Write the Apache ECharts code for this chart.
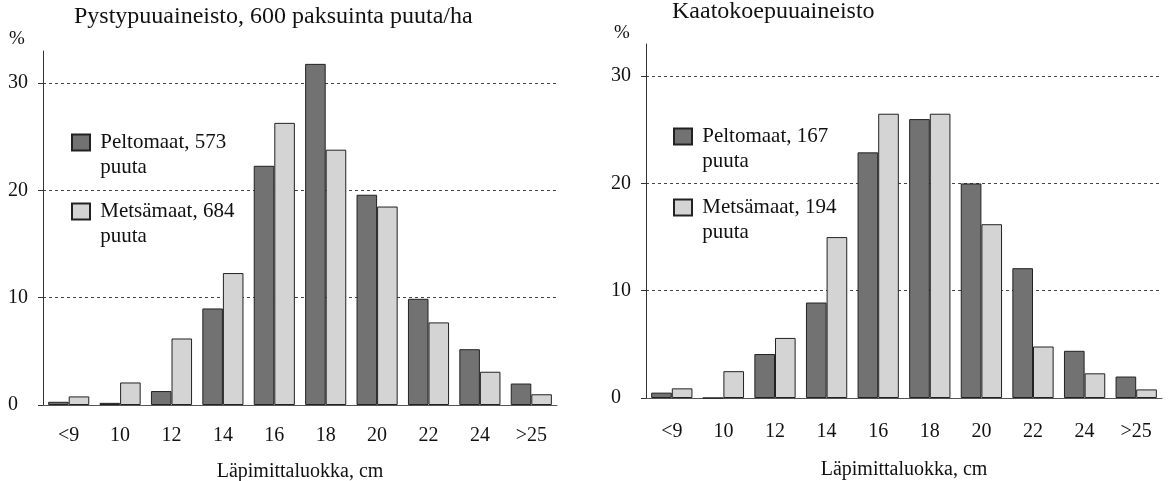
<!DOCTYPE html>
<html>
<head>
<meta charset="utf-8">
<script src="https://cdn.jsdelivr.net/npm/echarts@6/dist/echarts.min.js"></script>
<style>
  html, body { margin: 0; padding: 0; background: #fff; }
  #chart { width: 1170px; height: 481px; }
</style>
</head>
<body>
<div id="chart"></div>
<script>
// categories (diameter class, cm)
var categories = ['<9', '10', '12', '14', '16', '18', '20', '22', '24', '>25'];
var yTicks = [0, 10, 20, 30];

// left: Pystypuuaineisto
var leftPelto = [0.3, 0.2, 1.3, 9.0, 22.3, 31.8, 19.6, 9.9, 5.2, 2.0];
var leftMetsa = [0.8, 2.1, 6.2, 12.3, 26.3, 23.8, 18.5, 7.7, 3.1, 1.0];
// right: Kaatokoepuuaineisto
var rightPelto = [0.5, 0, 4.1, 8.9, 22.9, 26.0, 20.0, 12.1, 4.4, 2.0];
var rightMetsa = [0.9, 2.5, 5.6, 15.0, 26.5, 26.5, 16.2, 4.8, 2.3, 0.8];

var names = ['Peltomaat, 573', 'Metsämaat, 684', 'Peltomaat, 167', 'Metsämaat, 194'];

var font = '"Liberation Serif", "DejaVu Serif", serif';
var ink = '#111';
var dark = '#727272';
var light = '#d4d4d4';

function xAxisFor(gi, labelMargin, nameGap) {
    return {
        type: 'category',
        gridIndex: gi,
        data: categories,
        axisTick: { show: false },
        axisLine: { lineStyle: { color: '#555', width: 1 } },
        axisLabel: { interval: 0, margin: labelMargin, color: ink, fontFamily: font, fontSize: 20 },
        name: 'Läpimittaluokka, cm',
        nameLocation: 'middle',
        nameGap: nameGap,
        nameTextStyle: { color: ink, fontFamily: font, fontSize: 20 }
    };
}

function yAxisFor(gi) {
    return {
        type: 'value',
        gridIndex: gi,
        min: 0,
        max: 33,
        interval: 10,
        axisLine: { show: true, lineStyle: { color: '#333', width: 1 } },
        axisTick: { show: true, length: 5, customValues: yTicks, lineStyle: { color: '#333' } },
        axisLabel: { customValues: yTicks, align: 'left', margin: 35, color: ink, fontFamily: font, fontSize: 20 },
        splitLine: { show: true, lineStyle: { color: '#444', type: [3, 3], width: 1 } }
    };
}

function barSeries(name, data, gi, color) {
    return {
        name: name,
        type: 'bar',
        xAxisIndex: gi,
        yAxisIndex: gi,
        data: data,
        barGap: '0%',
        barCategoryGap: '20%',
        itemStyle: { color: color, borderColor: '#222', borderWidth: 1 }
    };
}

// blank first line keeps the box aligned with the first text line
function legendFor(name, left, top) {
    return {
        data: [name],
        left: left,
        top: top,
        padding: 0,
        icon: 'rect',
        itemWidth: 18,
        itemHeight: 16,
        formatter: function (n) { return '\n ' + n + '\n puuta'; },
        textStyle: { color: ink, fontFamily: font, fontSize: 21, lineHeight: 25 }
    };
}

var chart = echarts.init(document.getElementById('chart'));
var option = {
    backgroundColor: '#fff',
    animation: false,
    title: [
        { text: 'Pystypuuaineisto, 600 paksuinta puuta/ha', left: 74, top: 5, padding: 0,
          textStyle: { color: ink, fontFamily: font, fontSize: 24, fontWeight: 'normal' } },
        { text: '%', left: 9, top: 30, padding: 0,
          textStyle: { color: ink, fontFamily: font, fontSize: 19, fontWeight: 'normal' } },
        { text: 'Kaatokoepuuaineisto', left: 672, top: 0, padding: 0,
          textStyle: { color: ink, fontFamily: font, fontSize: 24, fontWeight: 'normal' } },
        { text: '%', left: 614, top: 24, padding: 0,
          textStyle: { color: ink, fontFamily: font, fontSize: 19, fontWeight: 'normal' } }
    ],
    legend: [
        legendFor(names[0], 71, 105),
        legendFor(names[1], 71, 174),
        legendFor(names[2], 673, 99),
        legendFor(names[3], 673, 170)
    ],
    grid: [
        { left: 43, top: 51, width: 514, height: 354, outerBoundsMode: 'none' },
        { left: 646, top: 44, width: 516, height: 354, outerBoundsMode: 'none' }
    ],
    xAxis: [xAxisFor(0, 21, 57), xAxisFor(1, 24, 62)],
    yAxis: [yAxisFor(0), yAxisFor(1)],
    series: [
        barSeries(names[0], leftPelto, 0, dark),
        barSeries(names[1], leftMetsa, 0, light),
        barSeries(names[2], rightPelto, 1, dark),
        barSeries(names[3], rightMetsa, 1, light)
    ]
};
chart.setOption(option);
</script>
</body>
</html>
